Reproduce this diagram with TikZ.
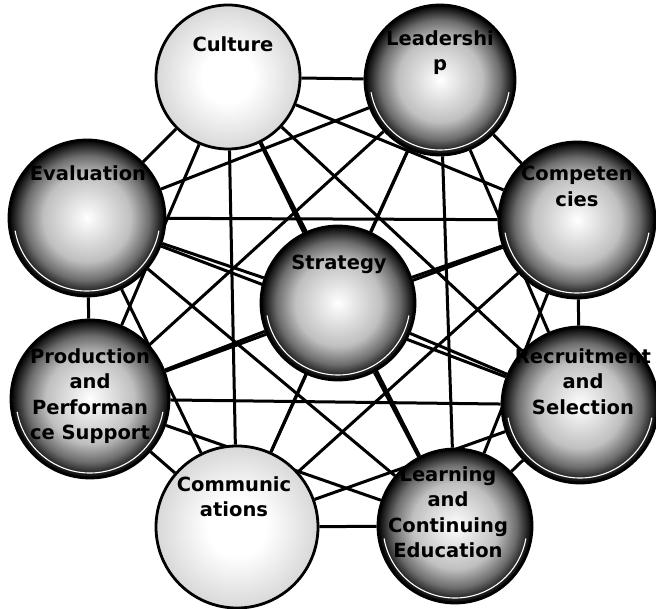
\documentclass[tikz,border=0pt]{standalone}
\usepackage{fontspec}
\setmainfont{DejaVu Sans}
\pgfdeclarelayer{background}
\pgfsetlayers{background,main}
\pgfdeclareradialshading{darkshade}{\pgfpoint{0bp}{0bp}}{color(0bp)=(white); color(7bp)=(gray!25); color(14bp)=(gray!50); color(20bp)=(gray!85!black); color(25bp)=(black); color(50bp)=(black)}
\pgfdeclareradialshading{lightshade}{\pgfpoint{0bp}{0bp}}{color(0bp)=(white); color(9bp)=(white); color(35bp)=(gray!50); color(50bp)=(gray!50)}
\tikzset{
  ball/.style={circle, draw=black, line width=2.8pt, inner sep=0pt},
  darkcirc/.style={ball, shading=darkshade},
  lightcirc/.style={ball, shading=lightshade},
  lbl/.style={font=\bfseries\fontsize{19.5}{25.5}\selectfont, align=center, anchor=north, inner sep=0pt, text=black},
  link/.style={line width=3pt, draw=black},
  ring/.style={draw=white, line width=1.1pt}
}
\begin{document}
\begin{tikzpicture}[x=1pt,y=-1pt]
\useasboundingbox (0,0) rectangle (656,609);
% circles
\node[lightcirc, minimum size=144pt] (culture) at (228,77) {};
\node[darkcirc,  minimum size=150pt] (lead)    at (440,80) {};
\node[darkcirc,  minimum size=156pt] (comp)    at (577,220) {};
\node[darkcirc,  minimum size=156pt] (recr)    at (580,405) {};
\node[darkcirc,  minimum size=154pt] (learn)   at (455,526) {};
\node[lightcirc, minimum size=162pt] (comm)    at (237,527) {};
\node[darkcirc,  minimum size=158pt] (prod)    at (90,399) {};
\node[darkcirc,  minimum size=156pt] (eval)    at (87,218) {};
\node[darkcirc,  minimum size=154pt] (strat)   at (338,303) {};
% thin white highlight rings inside the dark circles
\foreach \n/\r in {lead/70,comp/73,recr/73,learn/72,prod/74,eval/73,strat/72}{
  \draw[ring] (\n.center) ++(170:\r) arc[start angle=170, end angle=10, radius=\r];
}
% connectors (complete graph)
\begin{pgfonlayer}{background}
\foreach \a/\i in {culture/1,lead/2,comp/3,recr/4,learn/5,comm/6,prod/7,eval/8,strat/9}{
  \foreach \b/\j in {culture/1,lead/2,comp/3,recr/4,learn/5,comm/6,prod/7,eval/8,strat/9}{
    \ifnum\i<\j \draw[link] (\a) -- (\b);\fi
  }
}
\end{pgfonlayer}
% labels
\node[lbl] (tculture) at (233,36) {Culture};
\node[lbl] (tlead)    at (440,30) {Leadershi\\p};
\node[lbl] (tcomp)    at (577,166) {Competen\\cies};
\node[lbl] (trecr)    at (583,348) {Recruitment\\and\\Selection};
\node[lbl] (tlearn)   at (448,466) {Learning\\and\\Continuing\\Education};
\node[lbl] (tcomm)    at (234,476) {Communic\\ations};
\node[lbl] (tprod)    at (90,348) {Production\\and\\Performan\\ce Support};
\node[lbl] (teval)    at (88,165) {Evaluation};
\node[lbl] (tstrat)   at (339,255) {Strategy};
\end{tikzpicture}
\end{document}
